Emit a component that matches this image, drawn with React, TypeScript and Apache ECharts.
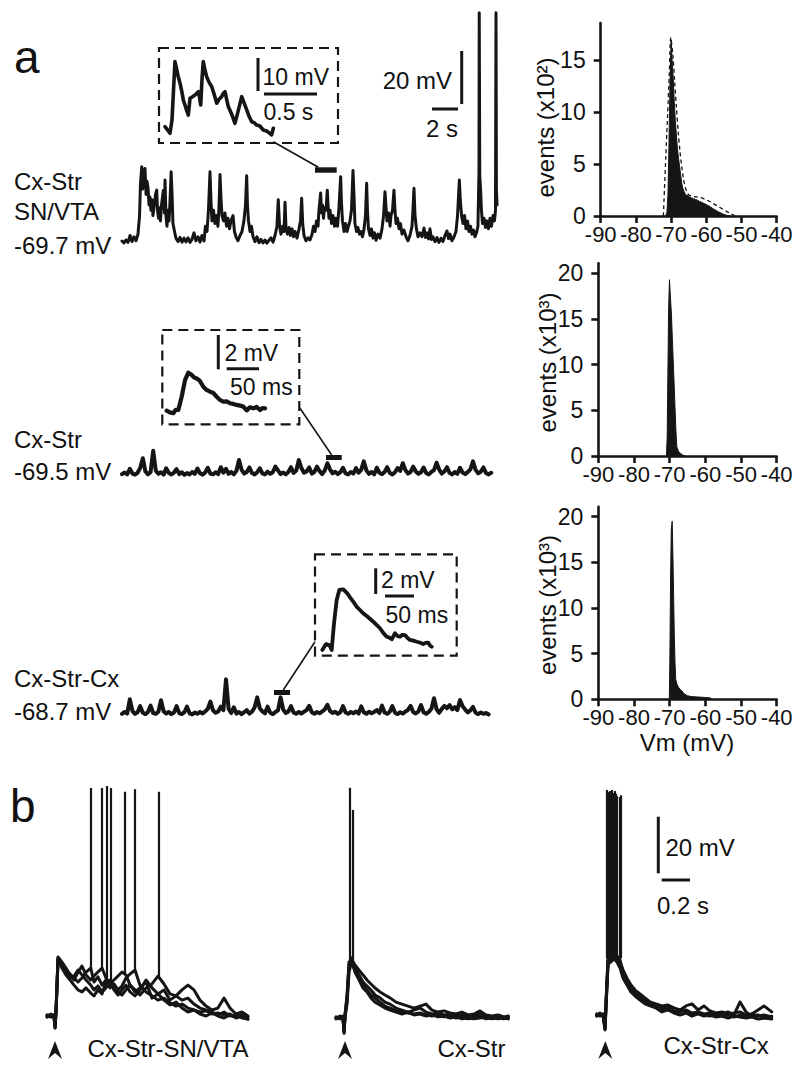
import React, { useEffect, useRef } from "react";
import * as echarts from "echarts";

const FONT = "'Liberation Sans', Arial, Helvetica, sans-serif";
const INK = "#151515";

// ---------- panel a, trace 1 : Cx-Str SN/VTA  [time (s), Vm (mV)]
const snvtaTrace: number[][] = [
  [0, -69.6], [0.15, -70.3], [0.31, -69.2], [0.46, -70.1], [0.62, -67.5], [0.77, -69.8], [0.92, -68.0], [1.08, -69.5],
  [1.23, -67.0], [1.35, -60], [1.42, -48], [1.52, -41.6], [1.59, -50], [1.65, -44], [1.77, -42.2], [1.85, -52],
  [1.92, -47], [2.0, -49.5], [2.08, -56], [2.15, -53], [2.23, -58], [2.31, -54], [2.38, -60], [2.46, -57],
  [2.58, -52], [2.67, -50.4], [2.73, -58], [2.81, -61], [2.88, -57], [2.96, -62], [3.04, -56], [3.18, -50.5],
  [3.27, -59], [3.31, -46.6], [3.38, -60], [3.46, -64], [3.54, -58], [3.62, -62], [3.69, -55], [3.78, -43.5],
  [3.85, -52], [3.92, -63], [4.04, -66], [4.15, -68.5], [4.31, -69.8], [4.46, -68.2], [4.62, -70], [4.77, -68.5],
  [4.92, -69.9], [5.08, -68.4], [5.23, -70.1], [5.38, -69], [5.54, -66.5], [5.69, -69.5], [5.85, -68], [6.0, -70],
  [6.15, -67.5], [6.31, -69.6], [6.42, -64], [6.54, -66], [6.65, -58], [6.77, -43.5], [6.85, -55], [6.92, -62],
  [7.04, -58], [7.15, -63], [7.27, -60], [7.38, -64], [7.46, -57], [7.54, -44.5], [7.62, -54], [7.69, -60],
  [7.81, -62], [7.92, -59], [8.04, -64], [8.15, -61], [8.27, -65], [8.38, -62], [8.54, -60], [8.65, -66],
  [8.77, -68], [8.92, -69.5], [9.08, -67.5], [9.23, -66], [9.38, -62], [9.5, -56], [9.59, -45], [9.65, -56],
  [9.73, -62], [9.85, -66], [9.96, -64], [10.08, -68], [10.23, -69.8], [10.38, -68], [10.54, -70.2], [10.69, -69],
  [10.85, -70.3], [11.0, -69.2], [11.15, -70.4], [11.31, -69.3], [11.46, -68.4], [11.62, -70], [11.77, -67.5], [11.92, -64],
  [12.02, -54], [12.12, -64], [12.23, -67], [12.35, -64], [12.46, -66], [12.54, -55], [12.62, -65], [12.73, -67],
  [12.85, -64.5], [12.96, -67.5], [13.08, -65], [13.19, -68], [13.31, -66], [13.46, -68.5], [13.62, -65], [13.73, -62],
  [13.82, -53.5], [13.9, -63], [14.0, -67.5], [14.15, -69.5], [14.31, -68.4], [14.46, -69.2], [14.62, -67], [14.73, -64],
  [14.85, -66], [14.96, -62], [15.08, -64], [15.15, -58], [15.28, -51.5], [15.35, -59], [15.42, -56], [15.5, -61],
  [15.58, -57], [15.69, -58], [15.79, -50.4], [15.85, -56], [15.92, -61], [16.0, -58], [16.12, -63], [16.23, -60],
  [16.35, -64], [16.46, -61], [16.58, -64], [16.69, -57], [16.82, -45.3], [16.88, -55], [16.96, -62], [17.08, -66],
  [17.19, -63], [17.31, -66], [17.42, -64], [17.54, -62], [17.65, -58], [17.77, -43], [17.85, -53], [17.92, -63],
  [18.04, -66], [18.15, -64.5], [18.27, -67], [18.38, -66], [18.5, -68], [18.62, -65], [18.73, -60], [18.82, -47.8],
  [18.88, -58], [18.96, -65], [19.08, -67.5], [19.19, -65], [19.31, -68.5], [19.42, -66.5], [19.54, -69.3], [19.69, -67],
  [19.85, -68.5], [20.0, -65], [20.12, -60], [20.23, -51], [20.31, -57], [20.38, -62], [20.5, -59], [20.62, -64],
  [20.69, -60], [20.81, -58], [20.92, -50.4], [21.0, -58], [21.08, -63], [21.19, -61], [21.31, -65], [21.42, -63],
  [21.54, -67], [21.69, -65.5], [21.85, -68], [22.0, -69.5], [22.15, -67.5], [22.31, -64], [22.38, -58], [22.46, -49.7],
  [22.54, -60], [22.65, -65], [22.77, -68], [22.92, -66.5], [23.08, -68], [23.23, -64.7], [23.35, -68.3], [23.46, -66.5],
  [23.58, -68.8], [23.69, -65], [23.81, -69], [23.92, -68], [24.08, -69.8], [24.23, -68.3], [24.38, -70.1], [24.54, -68.6],
  [24.69, -69.8], [24.85, -67.5], [25.0, -65.8], [25.12, -68.7], [25.23, -67], [25.38, -69.5], [25.54, -68], [25.69, -66],
  [25.81, -60], [25.95, -46.6], [26.02, -54], [26.12, -60], [26.23, -63], [26.35, -60], [26.46, -65], [26.58, -62],
  [26.69, -66], [26.81, -64], [26.92, -67], [27.04, -65.5], [27.15, -68], [27.27, -66.5], [27.38, -64], [27.46, -43.5],
  [27.48, 16.5], [27.52, -45], [27.58, -50], [27.65, -58], [27.73, -63], [27.85, -61], [27.96, -64.5], [28.08, -62],
  [28.19, -65], [28.31, -61], [28.42, -64], [28.54, -60], [28.65, -62], [28.73, -58], [28.77, 16.5], [28.8, -50],
  [28.85, -56],
];

// ---------- panel a, trace 2 : Cx-Str, Vm (mV) every 0.2 s
const cxStrStep = 0.2;
const cxStrValues: number[] = [
  -69.8, -69.2, -69.9, -67.8, -69.6, -70.0, -69.3, -67.5, -63.8, -68.8, -69.9, -69.0, -61.0, -68.5, -69.7, -69.1,
  -70.0, -67.6, -69.4, -69.9, -69.2, -67.9, -69.8, -69.1, -70.1, -69.4, -69.9, -69.0, -69.7, -67.7, -69.5, -70.0,
  -69.2, -67.4, -69.6, -69.9, -69.1, -69.8, -67.2, -69.3, -67.8, -69.7, -69.0, -69.9, -68.6, -64.5, -68.2, -69.6,
  -69.0, -67.3, -69.4, -69.9, -69.1, -67.6, -69.5, -69.9, -68.9, -69.7, -69.1, -67.0, -68.4, -69.8, -69.2, -69.9,
  -69.0, -67.2, -69.4, -68.5, -64.5, -67.5, -69.3, -68.8, -67.3, -69.6, -69.0, -67.0, -68.7, -69.8, -68.4, -65.7,
  -68.0, -69.5, -68.9, -69.8, -69.1, -67.4, -69.5, -69.9, -69.0, -69.6, -67.5, -69.3, -68.2, -65.0, -68.4, -69.7,
  -69.0, -69.9, -67.4, -69.3, -69.8, -69.0, -67.2, -69.4, -69.9, -69.1, -67.5, -68.6, -65.7, -68.3, -69.6, -69.0,
  -67.0, -68.8, -69.7, -69.1, -67.3, -69.4, -69.9, -69.0, -68.3, -65.5, -68.1, -69.6, -68.8, -67.2, -69.4, -69.9,
  -69.0, -69.7, -67.4, -69.2, -69.8, -69.0, -68.0, -65.0, -68.2, -69.5, -68.9, -67.3, -69.4, -69.9, -69.3,
];

// ---------- panel a, trace 3 : Cx-Str-Cx, Vm (mV) every 0.2 s
const cxStrCxStep = 0.2;
const cxStrCxValues: number[] = [
  -68.9, -68.2, -68.8, -63.4, -67.8, -68.9, -68.3, -66.0, -68.5, -69.0, -68.2, -65.8, -68.6, -68.9, -68.1, -63.8,
  -67.9, -68.8, -68.2, -69.0, -68.4, -66.0, -68.6, -69.0, -68.3, -66.2, -68.7, -69.1, -68.4, -68.9, -68.2, -68.8,
  -68.0, -67.0, -64.3, -67.6, -68.5, -68.0, -66.2, -67.5, -55.9, -67.0, -68.6, -66.4, -68.8, -68.2, -69.0, -68.3,
  -67.5, -68.8, -68.1, -66.5, -62.7, -66.8, -68.0, -68.7, -66.2, -68.5, -69.0, -68.2, -67.6, -62.7, -67.3, -68.6,
  -68.0, -66.0, -68.4, -68.9, -68.2, -68.8, -68.1, -67.5, -65.9, -68.3, -68.9, -68.2, -68.7, -68.0, -67.2, -65.5,
  -67.8, -68.6, -68.1, -68.9, -68.3, -66.0, -68.4, -68.9, -68.2, -68.7, -68.0, -68.8, -66.1, -68.3, -68.9, -68.1,
  -68.7, -68.2, -67.5, -68.6, -65.8, -68.4, -68.9, -68.1, -66.0, -68.5, -69.0, -68.3, -68.8, -68.1, -67.4, -65.9,
  -68.2, -68.8, -68.0, -65.6, -68.3, -68.9, -68.2, -67.0, -63.0, -67.2, -68.5, -67.0, -65.9, -66.8, -65.6, -67.2,
  -66.4, -67.5, -63.7, -66.0, -67.3, -68.4, -67.6, -66.3, -68.5, -69.0, -68.4, -68.9, -68.6, -69.1,
];

// ---------- insets [time, Vm relative to rest]
const inset1: number[][] = [
  [0, 0.1], [0.047, -1.9], [0.066, 2.1], [0.094, 19.8], [0.11, 17.5], [0.125, 15.2], [0.146, 12.7], [0.16, 10.5],
  [0.173, 8.2], [0.2, 5.5], [0.22, 3.6], [0.236, 8.7], [0.26, 9.2], [0.283, 9.7], [0.3, 10.2], [0.314, 10.7],
  [0.325, 9.2], [0.337, 6.7], [0.35, 15], [0.361, 19.8], [0.375, 17.6], [0.393, 15.2], [0.415, 13.6], [0.441, 12.2],
  [0.465, 9.8], [0.488, 7.2], [0.51, 8.4], [0.535, 9.2], [0.55, 10.2], [0.566, 10.7], [0.58, 8.6], [0.597, 6.2],
  [0.63, 3.8], [0.66, 1.1], [0.69, 4.8], [0.724, 9.2], [0.745, 7.4], [0.771, 5.2], [0.795, 3.1], [0.818, 1.6],
  [0.84, 1.3], [0.865, 0.6], [0.895, 0.3], [0.927, -0.9], [0.965, -1.3], [1.006, -2.4], [1.022, -0.4],
];
const inset2: number[][] = [
  [0, 0], [5, -0.1], [10.3, -0.15], [14, 0.05], [18.1, 0.04], [23.4, 0.82], [28.6, 1.8], [33.8, 2.24], [39.1, 2.1],
  [43, 1.95], [46.9, 1.9], [51.9, 1.75], [57.2, 1.41], [62.3, 1.22], [67.7, 1.12], [72.7, 1.05], [78.1, 0.82],
  [83.3, 0.63], [88.4, 0.53], [93.8, 0.55], [98.9, 0.44], [104, 0.4], [109.4, 0.34], [114.5, 0.3], [119.7, 0.24],
  [125, 0.02], [130, 0.2], [135.3, 0.14], [140.5, 0.22], [145.8, 0.04], [150, 0.16], [153.6, 0.14],
];
const inset3: number[][] = [
  [0, -0.13], [6.4, 0.33], [12.1, 0.26], [16.2, -0.13], [20.2, 1.95], [24.8, 3.76], [29.3, 4.54], [36.2, 4.59],
  [43.1, 4.28], [48, 3.95], [53.4, 3.63], [59, 3.25], [65, 2.98], [71, 2.7], [76.6, 2.51], [82, 2.3], [87.9, 2.07],
  [94, 1.8], [99.5, 1.56], [105, 1.2], [111, 0.9], [115, 0.85], [119.7, 0.7], [125.3, 1.17], [130, 0.95], [134, 0.9],
  [138, 1.05], [142.6, 1.03], [147, 0.8], [151.2, 0.65], [157, 0.6], [162.8, 0.51], [168, 0.45], [174.1, 0.33],
  [178, 0.42], [182.8, 0.44], [186, 0.2], [188.6, 0.12],
];

// ---------- histograms [Vm (mV), events]
const vmTicks = [-90, -80, -70, -60, -50, -40];
const hist1Ticks = [0, 5, 10, 15];
const hist23Ticks = [0, 5, 10, 15, 20];
const hist1Fill: number[][] = [
  [-71.6, 0], [-71.2, 0.3], [-70.9, 2], [-70.6, 7], [-70.3, 13], [-70.0, 17], [-69.7, 15], [-69.4, 13.2], [-69.1, 11],
  [-68.8, 9.2], [-68.5, 7.8], [-68.2, 6.5], [-67.9, 5.6], [-67.6, 4.8], [-67.3, 4.0], [-67.0, 3.2], [-66.7, 2.7],
  [-66.4, 2.4], [-66.1, 2.2], [-65.8, 2.05], [-65.5, 1.95], [-65.2, 2.0], [-64.9, 1.8], [-64.6, 1.85], [-64.3, 1.7],
  [-64.0, 1.75], [-63.7, 1.6], [-63.4, 1.7], [-63.1, 1.55], [-62.8, 1.6], [-62.5, 1.45], [-62.2, 1.5], [-61.9, 1.35],
  [-61.6, 1.4], [-61.3, 1.25], [-61.0, 1.3], [-60.7, 1.15], [-60.4, 1.2], [-60.1, 1.05], [-59.8, 1.1], [-59.5, 0.95],
  [-59.2, 1.0], [-58.9, 0.85], [-58.6, 0.85], [-58.3, 0.75], [-58.0, 0.7], [-57.7, 0.6], [-57.4, 0.6], [-57.1, 0.5],
  [-56.8, 0.45], [-56.5, 0.4], [-56.2, 0.35], [-55.9, 0.3], [-55.6, 0.25], [-55.3, 0.2], [-55.0, 0.15], [-54.7, 0.12],
  [-54.4, 0.08], [-54.0, 0.05], [-53.5, 0.02], [-53.0, 0],
];
const hist1Fit: number[][] = [
  [-72.2, 0], [-71.5, 5.7], [-71.0, 9.7], [-70.5, 13.8], [-70.1, 17.2], [-69.5, 15.5], [-69.0, 13], [-68.5, 10.5],
  [-68.0, 8.2], [-67.5, 6.3], [-67.0, 4.8], [-66.5, 3.6], [-66.0, 2.8], [-65.5, 2.3], [-65.0, 2.05], [-64.0, 1.9],
  [-63.0, 1.85], [-62.0, 1.8], [-61.0, 1.7], [-60.0, 1.55], [-59.0, 1.4], [-58.0, 1.2], [-57.0, 1.0], [-56.0, 0.8],
  [-55.0, 0.6], [-54.0, 0.4], [-53.0, 0.2], [-51.8, 0],
];
const hist2Fill: number[][] = [
  [-70.9, 0], [-70.7, 2], [-70.5, 9], [-70.3, 16], [-70.05, 19.3], [-69.8, 17.5], [-69.5, 15.5], [-69.25, 12.9],
  [-69.0, 10.4], [-68.75, 7.9], [-68.5, 5.3], [-68.25, 2.8], [-68.0, 1.0], [-67.5, 0.5], [-67.0, 0.3], [-66.5, 0.15],
  [-66.0, 0.05], [-65.5, 0],
];
const hist3Fill: number[][] = [
  [-70.1, 0], [-69.95, 4], [-69.75, 13], [-69.55, 18.5], [-69.3, 19.5], [-69.1, 16], [-68.9, 11.5], [-68.7, 7],
  [-68.5, 4], [-68.3, 2.2], [-68.0, 1.7], [-67.5, 1.3], [-67.0, 1.05], [-66.5, 0.9], [-66.0, 0.6], [-65.0, 0.4],
  [-64.0, 0.3], [-62.0, 0.25], [-60.0, 0.2], [-58.6, 0.15], [-58.2, 0],
];

// ---------- panel b : evoked responses, time (ms) and Vm (mV) of overlaid sweeps
const b1Time = [0, 28, 49, 57, 64, 78, 106, 134, 163, 191, 219, 247, 276, 309, 332, 360, 389, 417, 445, 473, 502, 530,
  558, 587, 622, 657, 700, 742, 784, 827, 869, 912, 954, 996, 1039, 1081, 1124, 1166, 1208, 1251, 1293, 1336, 1378, 1420];
const b1SweepA = [-70, -69.3, -70.4, -74.2, -67.9, -49.5, -52, -53.8, -55.2, -56.6, -58, -56.6, -54.5, -53.1, -58, -56.2,
  -59.1, -57.3, -60.1, -58.7, -60.8, -59.4, -56.6, -55.2, -53.8, -59.1, -61.5, -62.9, -64.4, -63.7, -65.4, -66.5, -65.8,
  -67.2, -67.9, -68.6, -68.2, -69.3, -68.9, -69.6, -69.3, -70.4, -69.6, -70.4];
const b1SweepB = [-70.4, -69.6, -70, -73.9, -67.5, -49.2, -51, -53.1, -55.5, -57.3, -54.5, -52.4, -55.5, -57.3, -55.9,
  -54.5, -53.1, -56.6, -58.7, -57.3, -55.9, -54.5, -55.5, -59.1, -61.5, -60.1, -58, -63.7, -62.2, -64.4, -66.1, -65.1,
  -67.2, -68.6, -67.9, -69.3, -70, -68.9, -70, -70.7, -69.6, -70.7, -70, -71.1];
const b1SweepC = [-69.6, -70.4, -69.6, -74.2, -68.2, -49.9, -53.1, -55.5, -57.3, -59.1, -60.8, -61.5, -60.1, -61.9, -62.9,
  -60.8, -62.2, -58, -57.3, -60.1, -61.5, -62.6, -60.8, -59.1, -60.8, -62.6, -60.1, -58.7, -55.9, -58.7, -62.2, -62.9,
  -60.8, -59.1, -60.8, -64.4, -66.5, -67.9, -67.2, -63.7, -67.2, -69.3, -68.6, -70];
const b1SweepD = [-70, -70, -69.6, -73.5, -68.6, -50.2, -52.4, -54.5, -56.6, -55.9, -53.8, -55.5, -57.3, -59.1, -60.8,
  -59.4, -61.5, -60.1, -58, -60.8, -62.6, -60.8, -59.1, -61.5, -62.9, -60.8, -57.3, -60.1, -62.2, -60.8, -64.4, -62.9,
  -64.4, -63.7, -65.8, -67.2, -67.9, -68.6, -69.6, -68.6, -70, -69.6, -70.7, -71.1];
const b1Spikes: number[][] = [[309, -53.1, 10.4], [387, -53.1, 10.4], [422, -58, 11.1], [452, -58, 10.4],
  [551, -55.5, 9.1], [622, -53.8, 10.0], [787, -55.9, 9.1]];

const b2Time = [0, 28, 49, 57, 64, 78, 92, 111, 134, 163, 191, 219, 247, 276, 311, 346, 382, 424, 466, 509, 551, 594,
  636, 678, 721, 763, 806, 848, 890, 933, 975, 1018, 1060, 1102, 1145, 1187, 1218];
const b2SweepA = [-69.9, -69.2, -69.5, -75.3, -69.2, -63.5, -52.3, -49.4, -51.2, -53, -54.7, -56.5, -57.9, -59.3, -60.7,
  -61.8, -62.8, -64.3, -65, -65.7, -66.4, -65.7, -65, -67.1, -67.8, -67.4, -68.1, -68.5, -67.8, -68.8, -68.5, -67.4,
  -68.8, -69.2, -68.8, -69.5, -69.2];
const b2SweepB = [-70.2, -69.5, -69.9, -74.9, -69.5, -65, -53.7, -50.1, -53, -55.8, -58.3, -60, -61.8, -62.8, -64.3,
  -65.7, -66.4, -67.4, -67.8, -68.1, -68.5, -68.1, -68.8, -69.2, -68.8, -69.5, -69.2, -69.9, -69.5, -70.2, -69.9,
  -69.5, -70.2, -69.9, -70.2, -69.9, -70.2];
const b2SweepC = [-69.5, -70.2, -69.2, -74.2, -68.8, -62.8, -51.2, -48.7, -52.3, -54.7, -57.2, -58.6, -60, -61.8, -62.8,
  -64.3, -65, -66.4, -67.1, -67.8, -67.1, -66.4, -67.8, -68.5, -68.1, -68.8, -68.5, -69.2, -68.8, -69.5, -69.2, -68.5,
  -69.2, -69.5, -69.2, -69.9, -69.5];
const b2SweepD = [-69.9, -69.9, -69.5, -74.6, -68.5, -61.8, -50.1, -49.7, -53.7, -56.5, -59.3, -60.7, -62.8, -64.3,
  -65.3, -66.4, -67.1, -67.8, -68.5, -67.8, -68.8, -68.5, -69.2, -68.8, -69.5, -69.2, -69.9, -69.5, -70.2, -69.9,
  -70.2, -69.9, -69.5, -70.2, -69.9, -70.2, -69.9];
const b2Spikes: number[][] = [[94, -52, 11.3], [120, -50, 3.5]];

const b3Time = [0, 23, 45, 59, 66, 80, 101, 122, 143, 165, 186, 214, 242, 271, 306, 341, 377, 419, 461, 504, 546, 589,
  631, 673, 716, 758, 801, 843, 886, 928, 970, 1013, 1055, 1098, 1140, 1182, 1237];
const b3SweepA = [-70, -69.3, -70.4, -75.3, -64.7, -50.6, -49.9, -49.2, -50.6, -51.3, -54.1, -57, -59.4, -61.2, -62.6,
  -64, -65.4, -66.1, -66.8, -66.5, -67.5, -68.2, -66.8, -66.1, -68.2, -66.8, -68.6, -69.3, -68.9, -69.6, -69.3, -68.9,
  -70, -69.6, -70.4, -70, -70.7];
const b3SweepB = [-70.4, -70, -69.6, -74.6, -66.5, -52.4, -50.6, -49.9, -51.3, -53.4, -57, -59.4, -61.9, -63.3, -64.7,
  -66.1, -66.8, -67.5, -68.2, -67.2, -68.6, -68.9, -68.2, -69.3, -68.9, -69.6, -69.3, -70, -69.6, -68.9, -70, -65.4,
  -68.9, -70.4, -70, -70.7, -70.4];
const b3SweepC = [-69.6, -70.4, -70, -74.9, -67.5, -51.3, -49.5, -50.6, -49.9, -52.4, -55.9, -58.4, -60.5, -62.6, -64,
  -65.4, -66.5, -67.5, -68.9, -68.2, -69.3, -70, -69.3, -70.4, -69.6, -70.4, -70, -70.7, -70.4, -71.1, -70.4, -70.7,
  -71.1, -70.7, -71.4, -71.1, -71.4];
const b3SweepD = [-70, -69.6, -70, -74.2, -65.8, -49.9, -51.3, -49.5, -49.2, -50.6, -54.8, -57.7, -60.5, -61.9, -63.3,
  -64.7, -66.1, -66.8, -67.5, -68.2, -68.9, -68.2, -68.9, -70, -69.3, -70, -70.4, -69.6, -70.4, -70, -70.7, -70,
  -70.4, -69.6, -68.2, -66.8, -68.9];
const b3SpikeTimes = [69, 76, 83, 90, 98, 105, 112, 119, 126, 133, 140, 160, 170];
const b3SpikePeaks = [9.4, 7.5, 8.6, 9.0, 6.9, 9.4, 8.3, 7.8, 9.0, 8.0, 7.2, 6.9, 7.5];
const b3SpikeBase = -50;

// ---------- layout helpers
type Frame = { left: number; top: number; width: number; height: number; xMin: number; xMax: number; yMin: number; yMax: number };
function frame(left: number, pxPerX: number, xMax: number, baseY: number, baseV: number, k: number, yMin: number, yMax: number): Frame {
  const height = (yMax - yMin) * k;
  const bottom = baseY + (baseV - yMin) * k;
  return { left, top: bottom - height, width: xMax * pxPerX, height, xMin: 0, xMax, yMin, yMax };
}

function buildOption() {
  const grid: any[] = [];
  const xAxis: any[] = [];
  const yAxis: any[] = [];
  const series: any[] = [];

  const addFrame = (f: Frame) => {
    const i = grid.length;
    grid.push({ left: f.left, top: f.top, width: f.width, height: f.height, show: false, containLabel: false, outerBoundsMode: "none" });
    xAxis.push({ type: "value", gridIndex: i, min: f.xMin, max: f.xMax, show: false });
    yAxis.push({ type: "value", gridIndex: i, min: f.yMin, max: f.yMax, show: false });
    return i;
  };
  const line = (i: number, data: number[][], width: number) =>
    series.push({
      type: "line", xAxisIndex: i, yAxisIndex: i, data, symbol: "none", showSymbol: false, clip: false, silent: true,
      lineStyle: { color: INK, width, join: "round", cap: "round" }, z: 3,
    });
  const spikes = (i: number, segs: number[][]) =>
    series.push({
      type: "lines", coordinateSystem: "cartesian2d", xAxisIndex: i, yAxisIndex: i, silent: true, clip: false,
      data: segs.map(([t, b, p]) => ({ coords: [[t, b], [t, p]] })),
      lineStyle: { color: INK, width: 2.2, opacity: 1, curveness: 0 }, z: 3,
    });
  const sampled = (step: number, vals: number[]) => vals.map((v, j) => [+(j * step).toFixed(2), v]);
  const zipped = (times: number[], vals: number[]) => times.map((t, j) => [t, vals[j]]);

  // panel a traces
  const a1 = addFrame(frame(122, 13, 28.85, 241.3, -69.7, 2.65, -73, 18));
  line(a1, snvtaTrace, 3);
  const a2 = addFrame(frame(122, 13, 28.4, 473.3, -69.5, 2.65, -73, -58));
  line(a2, sampled(cxStrStep, cxStrValues), 4);
  const a3 = addFrame(frame(122, 13, 28.2, 713.3, -68.7, 2.65, -72, -52));
  line(a3, sampled(cxStrCxStep, cxStrCxValues), 4);

  // insets
  const i1 = addFrame(frame(165, 106, 1.022, 127, 0, 3.3, -3, 21));
  line(i1, inset1, 3.6);
  const i2 = addFrame(frame(166.7, 0.64, 153.6, 410.7, 0, 17, -0.5, 2.5));
  line(i2, inset2, 4.2);
  const i3 = addFrame(frame(322.3, 0.58, 188.6, 648.3, 0, 12.85, -0.5, 5));
  line(i3, inset3, 3.8);

  // panel b
  const b1 = addFrame(frame(47, 0.1415, 1420, 1016, -70, 2.835, -80, 15));
  [b1SweepA, b1SweepB, b1SweepC, b1SweepD].forEach((s) => line(b1, zipped(b1Time, s), 3));
  spikes(b1, b1Spikes);
  const b2 = addFrame(frame(336, 0.1415, 1218, 1018.3, -70, 2.835, -80, 15));
  [b2SweepA, b2SweepB, b2SweepC, b2SweepD].forEach((s) => line(b2, zipped(b2Time, s), 3));
  spikes(b2, b2Spikes);
  const b3 = addFrame(frame(596.7, 0.1415, 1237, 1015, -70, 2.835, -80, 15));
  [b3SweepA, b3SweepB, b3SweepC, b3SweepD].forEach((s) => line(b3, zipped(b3Time, s), 3));
  spikes(b3, b3SpikeTimes.map((t, j) => [t, b3SpikeBase, b3SpikePeaks[j]]));

  // histograms
  const axisLineStyle = { color: INK, width: 2.6 };
  const addHist = (left: number, top: number, width: number, height: number, yMax: number, ticks: number[]) => {
    const i = grid.length;
    grid.push({ left, top, width, height, show: false, containLabel: false, outerBoundsMode: "none" });
    xAxis.push({
      type: "value", gridIndex: i, min: vmTicks[0], max: vmTicks[vmTicks.length - 1], interval: 10,
      axisLine: { show: true, onZero: false, lineStyle: axisLineStyle },
      axisTick: { show: true, length: 7, lineStyle: axisLineStyle },
      axisLabel: { show: true, color: "#111", fontSize: 22, lineHeight: 18, fontFamily: FONT, margin: 9 },
      splitLine: { show: false },
    });
    yAxis.push({
      type: "value", gridIndex: i, min: 0, max: yMax, interval: 5,
      axisLine: { show: true, onZero: false, lineStyle: axisLineStyle },
      axisTick: { show: true, length: 7, lineStyle: axisLineStyle, customValues: ticks },
      axisLabel: {
        show: true, color: "#111", fontSize: 23, lineHeight: 18, fontFamily: FONT, margin: 15, customValues: ticks,
        formatter: (v: number) => (ticks.indexOf(v) >= 0 ? String(v) : ""),
      },
      splitLine: { show: false },
    });
    return i;
  };
  const fill = (i: number, data: number[][]) =>
    series.push({
      type: "line", xAxisIndex: i, yAxisIndex: i, data, symbol: "none", showSymbol: false, silent: true, clip: false,
      lineStyle: { color: INK, width: 1 }, areaStyle: { color: INK, opacity: 1 }, z: 2,
    });
  const h1 = addHist(600.7, 23, 176, 193, 18.6, hist1Ticks);
  fill(h1, hist1Fill);
  series.push({
    type: "line", xAxisIndex: h1, yAxisIndex: h1, data: hist1Fit, symbol: "none", showSymbol: false, silent: true,
    smooth: 0.3, clip: false, lineStyle: { color: INK, width: 1.3, type: [4, 3] }, z: 4,
  });
  const h2 = addHist(598.3, 263.3, 178.4, 192.7, 21.1, hist23Ticks);
  fill(h2, hist2Fill);
  const h3 = addHist(598.3, 506.7, 178.4, 192.6, 21.1, hist23Ticks);
  fill(h3, hist3Fill);

  // decorations
  const els: any[] = [];
  const text = (t: string, x: number, y: number, size: number, align = "left", rotation = 0) =>
    els.push({
      type: "text", x, y, rotation, silent: true, z: 10,
      style: {
        text: t, fill: "#111", fontSize: size, fontFamily: FONT,
        align, verticalAlign: "middle", textAlign: align, textVerticalAlign: "middle",
      },
    });
  const seg = (x1: number, y1: number, x2: number, y2: number, w: number) =>
    els.push({ type: "line", silent: true, z: 10, shape: { x1, y1, x2, y2 }, style: { stroke: INK, lineWidth: w } });
  const box = (x: number, y: number, w: number, h: number) =>
    els.push({
      type: "rect", silent: true, z: 10, shape: { x, y, width: w, height: h },
      style: { fill: "none", stroke: INK, lineWidth: 2.2, lineDash: [10, 6] },
    });
  const bar = (x: number, y: number, w: number, h: number) =>
    els.push({ type: "rect", silent: true, z: 10, shape: { x, y, width: w, height: h }, style: { fill: INK } });
  const arrow = (cx: number) =>
    els.push({
      type: "polygon", silent: true, z: 10,
      shape: { points: [[cx, 1041], [cx + 7, 1059], [cx, 1053], [cx - 7, 1059]] },
      style: { fill: INK },
    });

  text("a", 14, 57, 46);
  text("Cx-Str", 14, 181.7, 24);
  text("SN/VTA", 14, 211.7, 24);
  text("-69.7 mV", 14, 245, 24);
  text("Cx-Str", 14, 439, 24);
  text("-69.5 mV", 14, 471, 24);
  text("Cx-Str-Cx", 14, 678, 24);
  text("-68.7 mV", 14, 711, 24);

  // scale bars panel a
  seg(461.7, 51, 461.7, 104, 3);
  seg(432, 109, 458, 109, 3);
  text("20 mV", 452, 80, 24, "right");
  text("2 s", 442, 128, 24, "center");

  box(159, 48, 179, 95);
  seg(258, 58, 258, 91, 3);
  seg(264, 94, 317, 94, 3);
  text("10 mV", 262.5, 77, 23);
  text("0.5 s", 263.5, 112, 23);
  seg(273.3, 141.7, 318.3, 167.3, 1.6);
  bar(315, 167.3, 21.7, 5.4);

  box(162.3, 330, 137, 94.3);
  seg(218.3, 335, 218.3, 369.3, 3);
  seg(226.7, 368.7, 259, 368.7, 3);
  text("2 mV", 224.5, 353, 23);
  text("50 ms", 230, 387, 23);
  seg(300, 408.3, 331.7, 455, 1.6);
  bar(326, 455, 15.7, 5);

  box(315, 554.3, 141.7, 101.4);
  seg(375.7, 568.3, 375.7, 594, 3);
  seg(385, 596, 414, 596, 3);
  text("2 mV", 381, 580, 23);
  text("50 ms", 385.5, 615, 23);
  seg(315, 641.7, 283.3, 690, 1.6);
  bar(274, 690, 16, 5);

  // histogram titles
  text("events (x10\u00B2)", 545, 127.5, 24, "center", Math.PI / 2);
  text("events (x10\u00B3)", 547, 362.5, 24, "center", Math.PI / 2);
  text("events (x10\u00B3)", 547, 605, 24, "center", Math.PI / 2);
  text("Vm (mV)", 687, 742, 24, "center");

  // panel b
  text("b", 10, 806, 46);
  arrow(55);
  arrow(345);
  arrow(605.3);
  text("Cx-Str-SN/VTA", 87.5, 1048, 24);
  text("Cx-Str", 437.5, 1048, 24);
  text("Cx-Str-Cx", 663.5, 1045, 24);
  seg(658.3, 816.7, 658.3, 873.3, 3);
  seg(661.7, 880, 690, 880, 3);
  text("20 mV", 665.5, 847, 24);
  text("0.2 s", 657, 905, 24);

  return {
    animation: false,
    backgroundColor: "#fff",
    textStyle: { fontFamily: FONT },
    grid,
    xAxis,
    yAxis,
    series,
    graphic: { elements: els },
  };
}

export default function App() {
  const ref = useRef<HTMLDivElement>(null);
  useEffect(() => {
    if (!ref.current) return;
    const chart = echarts.init(ref.current, undefined, { renderer: "svg" });
    chart.setOption(buildOption() as any);
    return () => chart.dispose();
  }, []);
  return (
    <div
      ref={ref}
      style={{ position: "absolute", left: 0, top: 0, width: 800, height: 1073, background: "#fff" }}
    />
  );
}
